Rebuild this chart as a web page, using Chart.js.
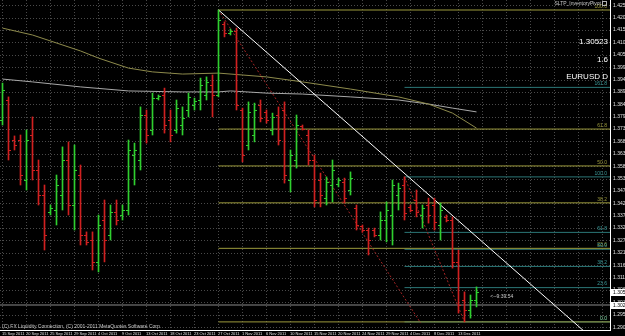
<!DOCTYPE html>
<html><head><meta charset="utf-8">
<script src="https://cdn.jsdelivr.net/npm/chart.js@4.4.0/dist/chart.umd.min.js"></script>
<style>html,body{margin:0;padding:0;background:#000;overflow:hidden}canvas{display:block}</style>
</head><body><canvas id="c" width="625" height="336"></canvas>
<script>
// ---------- DATA ----------
const dateLabels = ['15 Sep 2011','20 Sep 2011','25 Sep 2011','29 Sep 2011','4 Oct 2011','9 Oct 2011','13 Oct 2011','18 Oct 2011','23 Oct 2011','27 Oct 2011','1 Nov 2011','6 Nov 2011','10 Nov 2011','15 Nov 2011','20 Nov 2011','24 Nov 2011','29 Nov 2011','4 Dec 2011','8 Dec 2011','13 Dec 2011'];
const dateLabelBars = [0,4,8,12,16,20,24,28,32,36,40,44,48,52,56,60,64,68,72,76];
const openP = [1.3776,1.3860,1.3692,1.3692,1.3524,1.3713,1.3566,1.3461,1.3390,1.3398,1.3461,1.3608,1.3419,1.3545,1.3293,1.3272,1.3180,1.3356,1.3293,1.3390,1.3377,1.3398,1.3629,1.3608,1.3797,1.3734,1.3868,1.3881,1.3776,1.3734,1.3755,1.3818,1.3839,1.3860,1.3881,1.3923,1.3881,1.4179,1.4141,1.4150,1.3818,1.3671,1.3713,1.3839,1.3810,1.3734,1.3797,1.3818,1.3524,1.3608,1.3751,1.3713,1.3608,1.3524,1.3448,1.3503,1.3507,1.3516,1.3482,1.3406,1.3331,1.3314,1.3314,1.3293,1.3356,1.3377,1.3461,1.3503,1.3411,1.3440,1.3377,1.3419,1.3419,1.3335,1.3369,1.3356,1.3180,1.3020,1.2978,1.3020];
const highP = [1.3931,1.3873,1.3709,1.3713,1.3734,1.3789,1.3608,1.3503,1.3419,1.3545,1.3663,1.3684,1.3671,1.3587,1.3306,1.3306,1.3377,1.3440,1.3419,1.3440,1.3419,1.3692,1.3679,1.3831,1.3818,1.3889,1.3881,1.3910,1.3818,1.3860,1.3831,1.3889,1.3868,1.3952,1.3957,1.3965,1.4238,1.4188,1.4158,1.4162,1.3826,1.3852,1.3847,1.3860,1.3818,1.3805,1.3831,1.3852,1.3650,1.3797,1.3755,1.3734,1.3629,1.3553,1.3537,1.3608,1.3532,1.3532,1.3558,1.3419,1.3335,1.3322,1.3322,1.3390,1.3432,1.3524,1.3511,1.3537,1.3419,1.3482,1.3419,1.3448,1.3448,1.3427,1.3377,1.3369,1.3230,1.3054,1.3041,1.3075];
const lowP = [1.3755,1.3608,1.3650,1.3503,1.3482,1.3524,1.3419,1.3230,1.3377,1.3335,1.3398,1.3377,1.3314,1.3251,1.3251,1.3146,1.3138,1.3180,1.3272,1.3335,1.3356,1.3377,1.3503,1.3566,1.3679,1.3713,1.3860,1.3721,1.3684,1.3721,1.3713,1.3789,1.3818,1.3818,1.3860,1.3789,1.3873,1.4125,1.4133,1.3818,1.3600,1.3650,1.3684,1.3768,1.3763,1.3713,1.3671,1.3511,1.3474,1.3574,1.3734,1.3587,1.3411,1.3411,1.3419,1.3432,1.3495,1.3427,1.3461,1.3314,1.3306,1.3209,1.3285,1.3272,1.3264,1.3251,1.3398,1.3356,1.3390,1.3369,1.3322,1.3343,1.3314,1.3272,1.3348,1.3154,1.2965,1.2928,1.2944,1.2991];
const closeP = [1.3902,1.3650,1.3671,1.3545,1.3692,1.3566,1.3461,1.3293,1.3406,1.3503,1.3608,1.3419,1.3566,1.3293,1.3264,1.3180,1.3335,1.3272,1.3390,1.3356,1.3398,1.3650,1.3650,1.3797,1.3713,1.3868,1.3877,1.3755,1.3713,1.3826,1.3784,1.3873,1.3856,1.3923,1.3936,1.3881,1.4196,1.4141,1.4150,1.3839,1.3629,1.3810,1.3818,1.3784,1.3776,1.3789,1.3692,1.3545,1.3629,1.3755,1.3738,1.3608,1.3440,1.3461,1.3516,1.3566,1.3524,1.3448,1.3532,1.3335,1.3314,1.3272,1.3293,1.3356,1.3398,1.3503,1.3490,1.3385,1.3398,1.3390,1.3406,1.3377,1.3348,1.3398,1.3356,1.3180,1.2999,1.2978,1.3020,1.3052];
const priceTicks = [1.42580,1.42060,1.41540,1.41020,1.40500,1.39980,1.39460,1.38940,1.38420,1.37900,1.37380,1.36860,1.36340,1.35820,1.35300,1.34780,1.34260,1.33740,1.33220,1.32700,1.32180,1.31660,1.31140,1.30620,1.30100,1.29580,1.29060];
// moving averages (read at sample bars)
const slowMABars = [0,5,13,16,21,25,30,36,44,50,58,66,71,75,79];
const slowMAValues = [1.4162,1.4133,1.4066,1.4036,1.3994,1.3978,1.3969,1.3973,1.3957,1.3936,1.3906,1.3873,1.3843,1.3805,1.3742];
const grayMABars = [0,5,13,21,30,36,38,44,50,58,66,71,75,79];
const grayMAValues = [1.3948,1.3936,1.3915,1.3898,1.3894,1.3894,1.3898,1.3889,1.3885,1.3873,1.3860,1.3843,1.3826,1.3810];
// fibonacci levels
const fibAStartBar = 36;
const fibALevels = [1.4238,1.3738,1.3583,1.3428,1.3237,1.2928];
const fibALabels = ['100.0','61.8','50.0','38.2','23.6','0.0'];
const fibBStartBar = 67;
const fibBLevels = [1.3913,1.3537,1.3304,1.3233,1.3161,1.3072,1.2928];
const fibBLabels = ['161.8','100.0','61.8','50.0','38.2','23.6','0.0'];
// drawn objects
const trendBars = [36,100];
const trendPrices = [1.4238,1.2821];
const fibADiagBars = [36,69.7];
const fibADiagPrices = [1.4238,1.2923];
const fibBDiagBars = [67,77];
const fibBDiagPrices = [1.3537,1.2928];
const hLinePrice = 1.2999;
const bidPrice = 1.30523;
const hLineLabel = '1.30264';
const infoTexts = ['1.30523','1.6','EURUSD D'];
const indicatorName = 'SLTP_InventoryPivot';
const timerText = '<--9:39:54';
const copyright = '(C) FX Liquidity Connection, (C) 2001-2011 MetaQuotes Software Corp.';

// ---------- STYLE ----------
const X_MIN = -5/12, X_MAX = 101.25;
const Y_MIN = 1.2894, Y_MAX = 1.4280;
const UP = '#2fcf2f', DOWN = '#d02020';
const OLIVE = '#9c9a3c', TEAL = '#2b7777', GRID = '#4a4a4a';
const FONT = '"Liberation Sans", Arial, sans-serif';

const n = openP.length;
const barData = [], barColors = [];
for (let i = 0; i < n; i++) {
  barData.push({x: i, y: [lowP[i], highP[i]]});
  barColors.push(closeP[i] >= openP[i] ? UP : DOWN);
}
const pts = (xs, ys) => xs.map((v, k) => ({x: v, y: ys[k]}));
const lineDs = (data, color, extra) => Object.assign({type: 'line', data, borderColor: color, borderWidth: 1, pointRadius: 0, tension: 0, fill: false, order: 5}, extra || {});

const datasets = [];
datasets.push({type: 'bar', data: barData, backgroundColor: barColors, barThickness: 1, borderWidth: 0, order: 0});
fibALevels.forEach(v => datasets.push(lineDs(pts([fibAStartBar, X_MAX], [v, v]), OLIVE, {order: 6})));
fibBLevels.forEach(v => datasets.push(lineDs(pts([fibBStartBar, X_MAX], [v, v]), TEAL, {order: 6})));
datasets.push(lineDs(pts([X_MIN, X_MAX], [hLinePrice, hLinePrice]), '#8a8a8a', {order: 6}));
datasets.push(lineDs(pts(slowMABars, slowMAValues), '#8e8b4c', {order: 4}));
datasets.push(lineDs(pts(grayMABars, grayMAValues), '#a8a8a8', {order: 4}));
datasets.push(lineDs(pts(fibADiagBars, fibADiagPrices), '#a52424', {borderDash: [2, 2], order: 3}));
datasets.push(lineDs(pts(fibBDiagBars, fibBDiagPrices), '#a52424', {borderDash: [2, 2], order: 3}));
datasets.push(lineDs(pts(trendBars, trendPrices), '#ffffff', {order: 2}));

const mt4 = {
  id: 'mt4',
  beforeDraw(chart) {
    const c = chart.ctx; c.save(); c.fillStyle = '#000'; c.fillRect(0, 0, chart.width, chart.height); c.restore();
  },
  beforeDatasetsDraw(chart) {
    const {ctx, chartArea: a, scales: {x, y}} = chart;
    ctx.save();
    ctx.strokeStyle = GRID; ctx.lineWidth = 1; ctx.setLineDash([1, 2]);
    priceTicks.forEach(v => {
      const py = Math.round(y.getPixelForValue(v)) + 0.5;
      ctx.beginPath(); ctx.moveTo(a.left, py); ctx.lineTo(a.right, py); ctx.stroke();
    });
    for (let b = 0; b <= X_MAX; b += 4) {
      const px = Math.floor(x.getPixelForValue(b)) + 0.5;
      ctx.beginPath(); ctx.moveTo(px, a.top); ctx.lineTo(px, a.bottom); ctx.stroke();
    }
    ctx.restore();
  },
  afterDatasetsDraw(chart) {
    const {ctx, chartArea: a, scales: {x, y}} = chart;
    ctx.save();
    // open / close ticks
    for (let i = 0; i < n; i++) {
      const px = Math.floor(x.getPixelForValue(i));
      ctx.fillStyle = barColors[i];
      ctx.fillRect(px - 2, Math.round(y.getPixelForValue(openP[i])), 2, 1);
      ctx.fillRect(px + 1, Math.round(y.getPixelForValue(closeP[i])), 2, 1);
    }
    // fib labels
    ctx.font = '5px ' + FONT; ctx.textAlign = 'right'; ctx.textBaseline = 'bottom';
    ctx.fillStyle = OLIVE;
    fibALevels.forEach((v, k) => ctx.fillText(fibALabels[k], a.right - 3, y.getPixelForValue(v) - 1));
    ctx.fillStyle = '#3a9a9a';
    fibBLevels.forEach((v, k) => ctx.fillText(fibBLabels[k], a.right - 3, y.getPixelForValue(v) - 1));
    // axes frame
    ctx.fillStyle = '#ffffff';
    ctx.fillRect(a.right, 0, 1, a.bottom + 1);
    ctx.fillRect(0, a.bottom, a.right + 1, 1);
    // price labels
    ctx.font = '5px ' + FONT; ctx.textAlign = 'left'; ctx.textBaseline = 'middle'; ctx.fillStyle = '#e0e0e0';
    priceTicks.forEach(v => ctx.fillText(v.toFixed(5), a.right + 3, y.getPixelForValue(v)));
    // price boxes
    [[bidPrice, bidPrice.toFixed(5)], [hLinePrice, hLineLabel]].forEach(([v, t]) => {
      const py = Math.round(y.getPixelForValue(v));
      ctx.fillStyle = '#ffffff'; ctx.fillRect(a.right + 1, py - 3, 15, 7);
      ctx.fillStyle = '#000000'; ctx.fillText(t, a.right + 3, py + 0.5);
    });
    // date labels
    ctx.font = '4px ' + FONT;
    ctx.textAlign = 'left'; ctx.textBaseline = 'top'; ctx.fillStyle = '#e0e0e0';
    dateLabelBars.forEach((b, k) => ctx.fillText(dateLabels[k], Math.floor(x.getPixelForValue(b)), a.bottom + 2));
    // copyright
    ctx.font = '5px ' + FONT;
    ctx.textBaseline = 'bottom'; ctx.fillStyle = '#c8c8c8';
    ctx.fillText(copyright, 2, a.bottom - 0.5);
    // timer
    ctx.textBaseline = 'middle'; ctx.fillStyle = '#c8c8c8';
    ctx.fillText(timerText, x.getPixelForValue(81.3), y.getPixelForValue(bidPrice) + 4);
    // info texts
    ctx.textAlign = 'right'; ctx.fillStyle = '#c8c8c8'; ctx.font = '5px ' + FONT;
    ctx.fillText(indicatorName, a.right - 9, 4);
    ctx.strokeStyle = '#b0b0b0'; ctx.lineWidth = 1; ctx.strokeRect(a.right - 7.5, 1.5, 4, 4);
    ctx.fillStyle = '#ffffff'; ctx.font = '8px ' + FONT;
    infoTexts.forEach((t, k) => ctx.fillText(t, a.right - 2, 42 + k * 17.5));
    ctx.restore();
  }
};

new Chart(document.getElementById('c'), {
  type: 'bar',
  data: {datasets},
  options: {
    responsive: false, animation: false, devicePixelRatio: 1,
    layout: {padding: {left: 0, top: 0, right: 15, bottom: 6}},
    plugins: {legend: {display: false}, tooltip: {enabled: false}},
    scales: {
      x: {type: 'linear', min: X_MIN, max: X_MAX, display: false, offset: false},
      y: {type: 'linear', min: Y_MIN, max: Y_MAX, display: false}
    }
  },
  plugins: [mt4]
});
</script>
</body></html>
